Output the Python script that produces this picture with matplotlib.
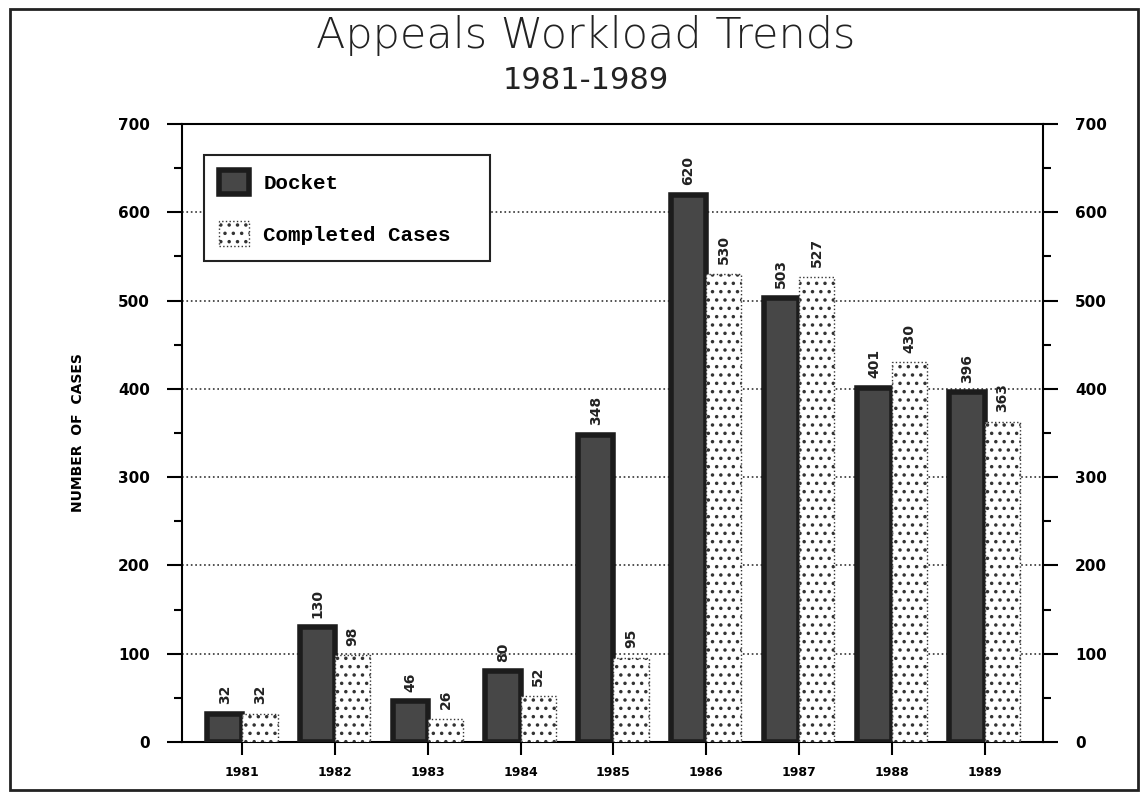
#! /usr/bin/env python3

import matplotlib

matplotlib.use("Agg")
import matplotlib.pyplot as plt
import numpy as np
from matplotlib.patches import Rectangle

years = ["1981", "1982", "1983", "1984", "1985", "1986", "1987", "1988", "1989"]
docket = [32, 130, 46, 80, 348, 620, 503, 401, 396]
completed = [32, 98, 26, 52, 95, 530, 527, 430, 363]

plt.rcParams["hatch.linewidth"] = 1.3

fig = plt.figure(figsize=(11.41, 7.93), dpi=100)
fig.patches.append(
    Rectangle((0.009, 0.004), 0.988, 0.985, transform=fig.transFigure,
              fill=False, edgecolor="#222222", linewidth=2.0)
)
ax = fig.add_axes([0.1595, 0.0643, 0.7546, 0.7793])

x = np.arange(len(years))
w = 0.38
ax.bar(x - w / 2, docket, w, color="#474747", edgecolor="#1c1c1c",
       linewidth=4, zorder=3, label="Docket")
ax.bar(x + w / 2, completed, w, color="white", edgecolor="#333333",
       hatch="..", linewidth=1.0, linestyle=":", zorder=3,
       label="Completed Cases")

# value labels, rotated like the original
for xi, v in zip(x, docket):
    ax.annotate(str(v), (xi - w / 2, v), xytext=(0, 7), textcoords="offset points",
                rotation=90, ha="center", va="bottom", fontsize=10,
                fontweight="bold", color="#222222")
for xi, v in zip(x, completed):
    ax.annotate(str(v), (xi + w / 2, v), xytext=(0, 7), textcoords="offset points",
                rotation=90, ha="center", va="bottom", fontsize=10,
                fontweight="bold", color="#222222")

ax.set_xlim(-0.65, 8.63)
ax.set_ylim(0, 700)
ax.set_yticks(range(0, 701, 100))
ax.set_yticks(range(50, 700, 100), minor=True)
ax.set_xticks(x)
ax.set_xticklabels(years, fontsize=9, fontweight="bold")
ax.tick_params(axis="y", which="major", length=11, width=1.5, labelsize=11,
               left=True, right=True, labelleft=True, labelright=True, pad=12)
ax.tick_params(axis="y", which="minor", length=6, width=1.5, left=True, right=True)
ax.tick_params(axis="x", length=9, width=1.5, pad=8)
for lab in ax.get_yticklabels():
    lab.set_fontweight("bold")
for s in ax.spines.values():
    s.set_linewidth(1.5)

ax.yaxis.grid(True, linestyle=":", color="#333333", linewidth=1.2, zorder=0)
ax.set_axisbelow(True)

ax.set_ylabel("NUMBER  OF  CASES", fontsize=10, fontweight="bold", labelpad=24)

leg = ax.legend(loc="upper left", bbox_to_anchor=(0.0256, 0.95, 0.332, 0.0),
                mode="expand", borderaxespad=0,
                prop={"family": "Liberation Mono", "weight": "bold", "size": 15},
                fancybox=False, edgecolor="#222222", framealpha=1,
                borderpad=0.7, labelspacing=1.3, handlelength=1.45,
                handleheight=1.45, handletextpad=0.7)
leg.get_frame().set_linewidth(1.5)

fig.text(0.513, 0.955, "Appeals Workload Trends", ha="center", va="center",
         fontsize=31, fontweight="light", color="#222222")
fig.text(0.513, 0.898, "1981-1989", ha="center", va="center", fontsize=22,
         color="#222222")

plt.savefig("out.png", dpi=100)
